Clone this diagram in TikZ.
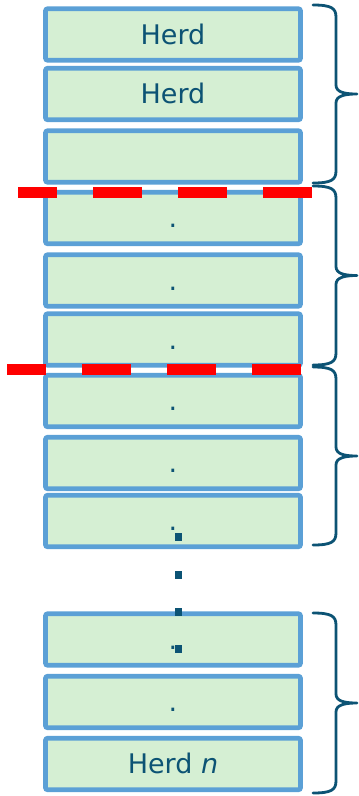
\documentclass[tikz,border=0pt]{standalone}
\usepackage{fontspec}
\setmainfont{DejaVu Sans}
\definecolor{txt}{RGB}{12,83,116}
\definecolor{bord}{RGB}{91,160,214}
\definecolor{boxfill}{RGB}{213,239,211}
\begin{document}
\begin{tikzpicture}[x=1pt,y=-1pt,
  herdbox/.style={draw=bord,fill=boxfill,line width=4.6pt,rounded corners=2pt,
    minimum width=255pt,minimum height=51.5pt,inner sep=0pt,text=txt,
    text height=19.6pt,text depth=0pt,
    font=\fontsize{27}{30}\selectfont},
  cutline/.style={draw=red,line width=11pt,dash pattern=on 49pt off 36pt,dash phase=10pt},
  bracepath/.style={draw=txt,line width=2.8pt,line cap=round,line join=round},
  dotsq/.style={fill=txt}]
\useasboundingbox (0,0) rectangle (359,796);
% boxes
\node[herdbox] (b1) at (173,34.5) {Herd};
\node[herdbox] (b2) at (173,94) {Herd};
\node[herdbox] (b3) at (173,156.5) {};
\node[herdbox] (b4) at (173,218) {.};
\node[herdbox] (b5) at (173,280.5) {.};
\node[herdbox] (b6) at (173,339.5) {.};
\node[herdbox] (b7) at (173,401) {.};
\node[herdbox] (b8) at (173,463) {.};
\node[herdbox] (b9) at (173,521) {.};
\node[herdbox] (b10) at (173,639.5) {.};
\node[herdbox] (b11) at (173,702) {.};
\node[herdbox] (b12) at (173,764) {Herd \textit{n}};
% red dashed cut lines
\draw[cutline] (18,192.5) -- (313,192.5);
\draw[cutline] (7,369.5) -- (302,369.5);
% vertical ellipsis
\foreach \yy in {537,575,612,649}
  \fill[dotsq] (174.5,\yy-3.6) rectangle (181.5,\yy+3.6);
% braces
\foreach \t/\b in {5/183,186/365,367/545,613/793}{
  \pgfmathsetmacro{\m}{(\t+\b)/2}
  \draw[bracepath] (313,\t) .. controls (331,\t) and (336,\t+3) .. (336,\t+12)
    -- (336,\m-9) .. controls (336,\m-2) and (344,\m) .. (357,\m)
    .. controls (344,\m) and (336,\m+2) .. (336,\m+9)
    -- (336,\b-12) .. controls (336,\b-3) and (331,\b) .. (313,\b);
}
\end{tikzpicture}
\end{document}
